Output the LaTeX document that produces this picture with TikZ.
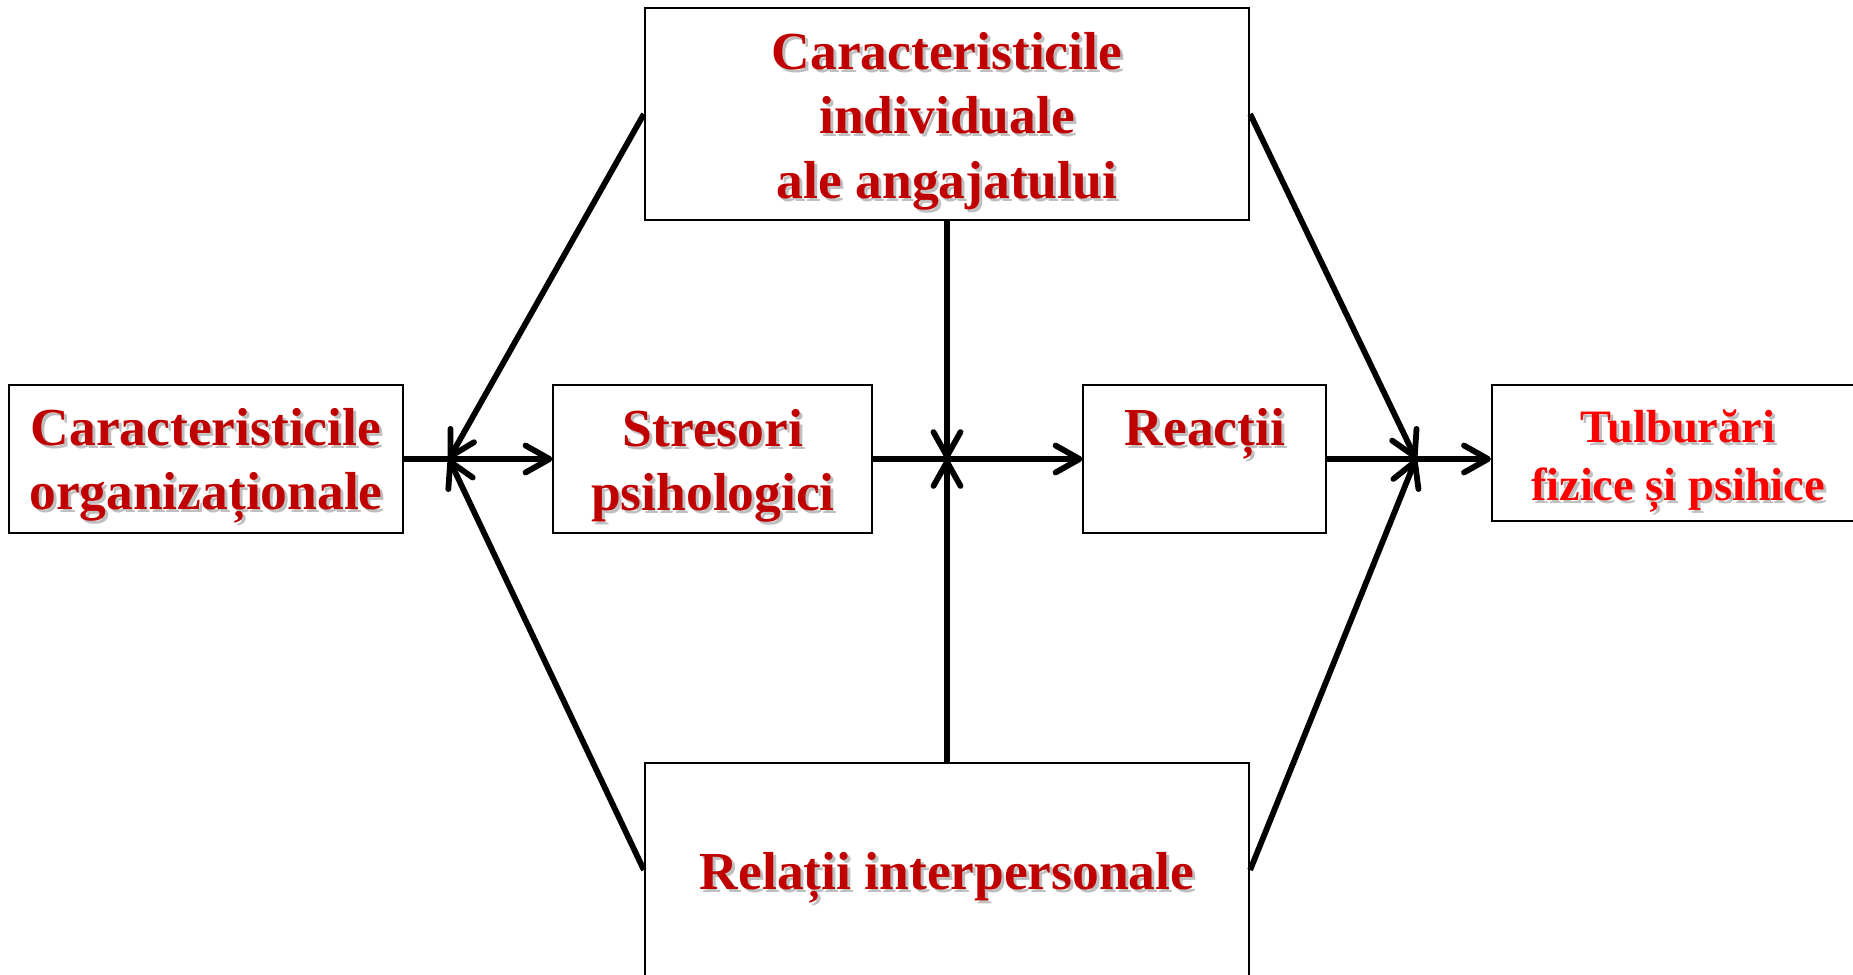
\documentclass[tikz,border=0pt]{standalone}
\usepackage{fontspec}
\setmainfont{Liberation Serif}
\usetikzlibrary{arrows.meta}
\definecolor{dred}{HTML}{C00000}
\definecolor{bred}{HTML}{FF0000}
\newcommand\shtxt[5]{% name, position, colour, font size style, text
  \node[txt,#4,text=gray!50,shift={(3,3)}] (#1s) at #2 {#5};
  \node[txt,#4,text=#3] (#1) at #2 {#5};}
\begin{document}
\begin{tikzpicture}[x=0.01cm,y=-0.01cm,
  box/.style={draw=black,line width=0.55pt,inner sep=0pt},
  conn/.style={line width=1.65pt,-{Straight Barb[length=2.4mm,width=2.7mm,round]}},
  txt/.style={align=center,inner sep=0pt},
  big/.style={font=\bfseries\fontsize{15.2}{18.3}\selectfont},
  small/.style={font=\bfseries\fontsize{13.2}{16.5}\selectfont}]
\useasboundingbox (0,0) rectangle (1853,975);
\clip (0,0) rectangle (1853,975);
% boxes
\node[box,minimum width=6.04cm,minimum height=2.12cm] (ind) at (947,114) {};
\node[box,minimum width=3.94cm,minimum height=1.48cm] (org) at (206,459) {};
\node[box,minimum width=3.18cm,minimum height=1.48cm] (str) at (712.5,459) {};
\node[box,minimum width=2.42cm,minimum height=1.48cm] (rea) at (1204.5,459) {};
\node[box,minimum width=3.72cm,minimum height=1.36cm] (tul) at (1678,453) {};
\node[box,minimum width=6.04cm,minimum height=2.14cm] (rel) at (947,870) {};
% junctions
\coordinate (jl) at (449,459);
\coordinate (jc) at (947,459);
\coordinate (jr) at (1416,459);
% texts
\shtxt{tind}{(947,121)}{dred}{big}{Caracteristicile\\individuale\\ ale angajatului}
\shtxt{torg}{(206,466)}{dred}{big}{Caracteristicile\\organizaționale}
\shtxt{tstr}{(713,466)}{dred}{big}{Stresori\\psihologici}
\shtxt{trea}{(1205,434)}{dred}{big}{Reacții}
\shtxt{ttul}{(1678,461)}{bred}{small}{Tulburări\\fizice și psihice}
\shtxt{trel}{(947,878)}{dred}{big}{Relații interpersonale}
% connectors
\draw[conn] (org.east) -- (str.west);
\draw[conn] (str.east) -- (rea.west);
\draw[conn] (rea.east) -- (rea.east -| tul.west);
\draw[conn] (ind.west) -- (jl);
\draw[conn] (rel.west) -- (jl);
\draw[conn] (ind.south) -- (jc);
\draw[conn] (rel.north) -- (jc);
\draw[conn] (ind.east) -- (jr);
\draw[conn] (rel.east) -- (jr);
\end{tikzpicture}
\end{document}
